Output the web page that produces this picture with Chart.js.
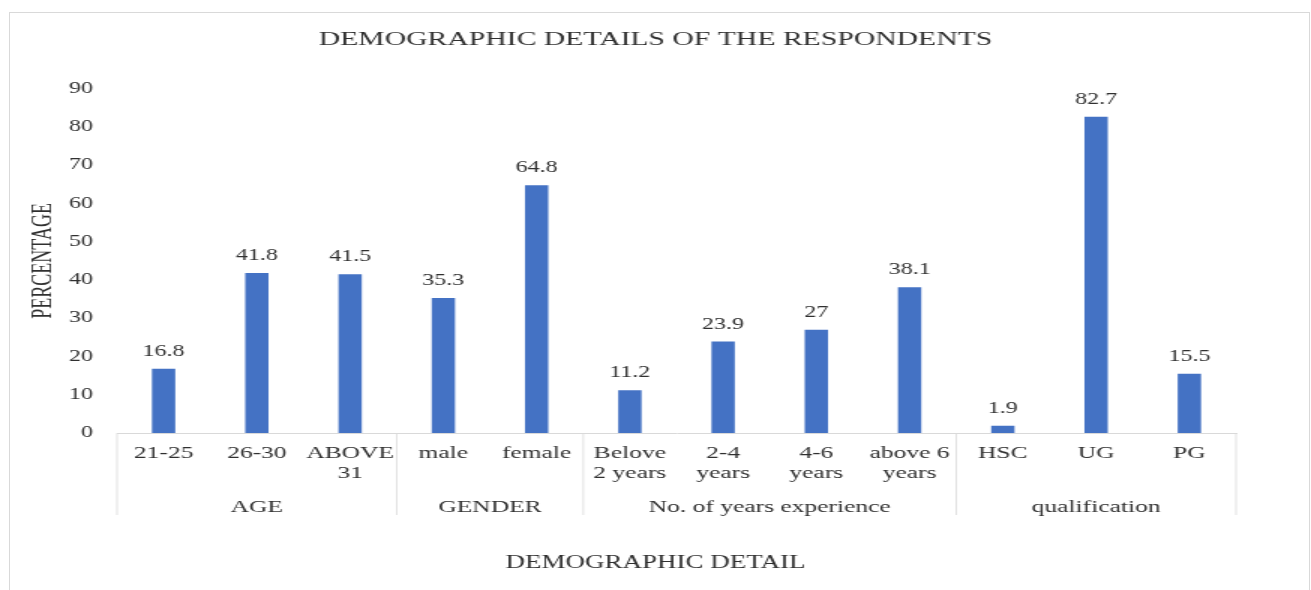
<!DOCTYPE html>
<html>
<head>
<meta charset="utf-8">
<title>Demographic details of the respondents</title>
<script src="https://cdn.jsdelivr.net/npm/chart.js@4.4.1/dist/chart.umd.min.js"></script>
<style>
  html, body { margin: 0; padding: 0; background: #fff; overflow: hidden; }
  body { width: 1311px; height: 590px; position: relative; }
  #frame { position: absolute; left: 9px; top: 12px; width: 1301px; height: 620px;
           border: 1px solid #d9d9d9; box-sizing: border-box; }
  /* the reference is stretched sideways, so the chart is drawn narrow and widened */
  #wrap { position: absolute; left: 0; top: 0; width: 874px; height: 590px;
          transform: scaleX(1.5); transform-origin: 0 0; }
</style>
</head>
<body>
<div id="frame"></div>
<div id="wrap"><canvas id="myChart" width="874" height="590"></canvas></div>
<script>
const categories = [
    ['21-25'], ['26-30'], ['ABOVE', '31'],
    ['male'], ['female'],
    ['Belove', '2 years'], ['2-4', 'years'], ['4-6', 'years'], ['above 6', 'years'],
    ['HSC'], ['UG'], ['PG']
];
const percentages = [16.8, 41.8, 41.5, 35.3, 64.8, 11.2, 23.9, 27, 38.1, 1.9, 82.7, 15.5];
const groupNames = ['AGE', 'GENDER', 'No. of years experience', 'qualification'];
const groupSizes = [3, 2, 4, 3];
const yMin = 0;
const yMax = 90;
const yStep = 10;

const serif = "'Liberation Serif', 'Times New Roman', serif";
const textColor = '#303030';
const lineColor = '#d9d9d9';

// group labels, group separators, bar values and the x title
const extrasPlugin = {
    id: 'extras',
    afterDraw(chart) {
        const ctx = chart.ctx;
        const x = chart.scales.x;
        const area = chart.chartArea;
        const half = (x.getPixelForValue(1) - x.getPixelForValue(0)) / 2;

        ctx.save();
        ctx.strokeStyle = lineColor;
        ctx.lineWidth = 0.8;
        ctx.fillStyle = textColor;
        ctx.font = '17px ' + serif;
        ctx.textAlign = 'center';
        ctx.textBaseline = 'alphabetic';

        let start = 0;
        const edges = [x.getPixelForValue(0) - half];
        groupSizes.forEach(function(size, g) {
            const left = x.getPixelForValue(start) - half;
            const right = x.getPixelForValue(start + size - 1) + half;
            edges.push(right);
            ctx.fillText(groupNames[g], (left + right) / 2, 512);
            start += size;
        });
        edges.forEach(function(px) {
            ctx.beginPath();
            ctx.moveTo(px, area.bottom);
            ctx.lineTo(px, 515);
            ctx.stroke();
        });

        ctx.font = '16px ' + serif;
        chart.getDatasetMeta(0).data.forEach(function(bar, i) {
            ctx.fillText(String(percentages[i]), bar.x, bar.y - 13);
        });

        ctx.font = '18px ' + serif;
        ctx.fillText('DEMOGRAPHIC DETAIL', chart.width / 2, 568);
        ctx.restore();
    }
};

const ctx = document.getElementById('myChart');

const myChart = new Chart(ctx, {
    type: 'bar',
    data: {
        labels: categories,
        datasets: [{
            label: 'Percentage',
            data: percentages,
            backgroundColor: '#4472C4',
            borderWidth: 0,
            categoryPercentage: 1,
            barPercentage: 0.25
        }]
    },
    options: {
        responsive: false,
        animation: false,
        devicePixelRatio: 1,
        layout: {
            padding: 0
        },
        scales: {
            x: {
                grid: {
                    drawOnChartArea: false,
                    drawTicks: false
                },
                border: {
                    display: true,
                    color: lineColor,
                    width: 1
                },
                ticks: {
                    color: textColor,
                    font: { family: serif, size: 17, lineHeight: 1.15 },
                    padding: 11,
                    maxRotation: 0,
                    autoSkip: false
                },
                afterFit: function(scale) {
                    scale.height = 157;
                }
            },
            y: {
                min: yMin,
                max: yMax,
                grid: {
                    display: false,
                    drawTicks: false
                },
                border: {
                    display: false
                },
                ticks: {
                    stepSize: yStep,
                    color: textColor,
                    font: { family: serif, size: 16 },
                    padding: 16
                },
                title: {
                    display: true,
                    text: 'PERCENTAGE',
                    color: textColor,
                    font: { family: serif, size: 18, lineHeight: 1.2 },
                    padding: { top: 18, bottom: 0 }
                },
                afterFit: function(scale) {
                    scale.width = 78;
                }
            },
            yRight: {
                type: 'linear',
                position: 'right',
                grid: { display: false, drawTicks: false },
                border: { display: false },
                ticks: { display: false },
                afterFit: function(scale) {
                    scale.width = 50;
                }
            }
        },
        plugins: {
            legend: {
                display: false
            },
            tooltip: {
                enabled: false
            },
            title: {
                display: true,
                text: 'DEMOGRAPHIC DETAILS OF THE RESPONDENTS',
                color: textColor,
                font: { family: serif, size: 19.8, weight: 'normal', lineHeight: 1.2 },
                padding: { top: 28, bottom: 37 }
            }
        }
    },
    plugins: [extrasPlugin]
});
</script>
</body>
</html>
